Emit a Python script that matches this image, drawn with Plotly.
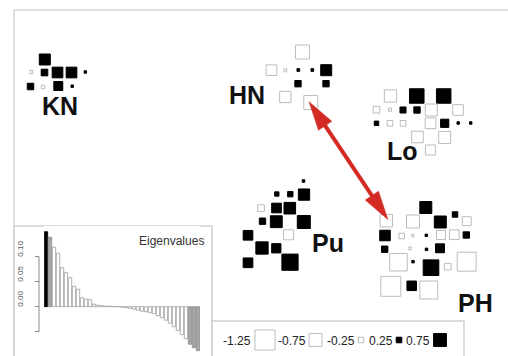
import math
import plotly.graph_objects as go

# ---------------- data ----------------
# map coordinates (x to the right, y downward) and signed values of each cell, by group
kn_x = [44.8, 31.5, 44.5, 57.5, 71.5, 85.3, 30.5, 43.0, 58.3, 72.2]
kn_y = [59.5, 72.0, 72.5, 72.5, 72.5, 72.0, 86.5, 87.0, 86.0, 86.2]
kn_v = [0.62, -0.07, 0.32, 0.60, 0.60, 0.03, 0.31, -0.10, 0.48, 0.03]

hn_x = [302.5, 271.5, 285.3, 298.3, 312.3, 326.2, 298.0, 326.0, 285.3, 310.8]
hn_y = [52.0, 70.2, 70.3, 70.0, 70.0, 70.2, 83.7, 83.7, 97.0, 102.5]
hn_v = [-0.83, -0.60, -0.07, 0.05, 0.05, 0.62, 0.30, 0.30, -0.64, -0.83]

lo_x = [390.5, 416.8, 443.7, 376.5, 390.0, 403.0, 417.0, 431.3, 458.0,
        376.5, 390.0, 403.0, 430.5, 444.7, 458.2, 470.7, 417.5, 444.7, 430.4]
lo_y = [96.0, 96.0, 96.0, 109.7, 109.7, 110.0, 110.0, 110.0, 110.0,
        123.3, 123.3, 123.3, 123.3, 123.3, 123.0, 123.0, 137.0, 137.5, 150.0]
lo_v = [-0.71, 0.86, 0.86, -0.32, -0.07, 0.28, 0.30, -0.69, -0.60,
        0.17, -0.25, -0.25, -0.60, 0.43, 0.03, 0.03, -0.66, -0.69, -0.55]

pu_x = [303.5, 276.8, 290.3, 304.0, 261.0, 276.5, 289.8, 262.5, 276.3, 303.8,
        248.0, 288.5, 262.0, 276.3, 248.0, 290.0]
pu_y = [181.0, 194.0, 194.2, 194.6, 208.2, 208.0, 208.2, 221.2, 221.7, 222.0,
        235.3, 234.8, 248.0, 248.3, 262.8, 262.2]
pu_v = [0.04, 0.16, 0.23, 0.64, -0.33, 0.53, 0.66, 0.30, 0.68, 0.76,
        0.53, -0.55, 0.71, 0.50, 0.53, 0.98]

ph_x = [425.8, 455.0, 386.3, 413.0, 440.3, 466.7, 385.0, 401.7, 412.8, 426.3,
        441.0, 454.3, 466.3, 384.7, 410.0, 426.5, 440.0, 398.5, 413.0, 431.0,
        447.8, 466.7, 390.8, 411.7, 428.8]
ph_y = [207.5, 214.5, 220.7, 221.5, 222.0, 221.2, 235.5, 236.0, 235.5, 235.3,
        235.0, 234.7, 235.0, 249.2, 248.3, 249.3, 248.3, 262.2, 261.7, 267.7,
        266.7, 261.7, 286.3, 285.8, 290.0]
ph_v = [0.69, 0.24, -0.72, -0.76, 0.69, -0.48, 0.59, -0.25, -0.03, 0.03,
        -0.48, -0.53, 0.30, 0.30, -0.05, 0.03, 0.48, -1.07, 0.03, 0.94,
        -0.32, -1.17, -1.24, 0.52, -1.10]

group_names = ["KN", "HN", "Lo", "Pu", "PH"]
group_label_x = [60, 247, 402, 328, 475]
group_label_y = [106, 95, 151, 243, 303]

# eigenvalues (inset)
eigenvalues = [0.150, 0.139, 0.119, 0.107, 0.078, 0.068, 0.058, 0.041, 0.035, 0.018,
               0.015, 0.014, 0.005, 0.003, 0.002, 0.001, 0.001, 0.0005, 0.0, -0.001,
               -0.002, -0.003, -0.005, -0.007, -0.009, -0.010, -0.012, -0.014, -0.018,
               -0.022, -0.027, -0.033, -0.040, -0.048, -0.056, -0.064, -0.075, -0.082,
               -0.088]
eig_ticks = [-0.05, 0.0, 0.05, 0.10]
eig_ticklabels = ["", "0.00", "0.05", "0.10"]

legend_values = [-1.25, -0.75, -0.25, 0.25, 0.75]
legend_labels = ["-1.25", "-0.75", "-0.25", "0.25", "0.75"]

# arrow between HN and PH (map coords)
arrow_from = (309.0, 101.7)
arrow_to = (388.0, 219.7)

# ---------------- styling / layout ----------------
W, H = 508, 356
X0, Y0 = 14, 10                  # plot-area origin in pixels
PW, PH_ = W - X0, H - Y0


def sq_size(v):
    return 2 + 14.5 * abs(v)


def px_to_paper_x(px):
    return (px - X0) / PW


def py_to_paper_y(py):
    return (H - py) / PH_


fig = go.Figure()

groups = [(kn_x, kn_y, kn_v), (hn_x, hn_y, hn_v), (lo_x, lo_y, lo_v),
          (pu_x, pu_y, pu_v), (ph_x, ph_y, ph_v)]
for gx, gy, gv in groups:
    fig.add_trace(go.Scatter(
        x=gx, y=gy, mode="markers", hoverinfo="skip",
        marker=dict(symbol="square", opacity=1,
                    size=[sq_size(v) for v in gv],
                    color=["black" if v > 0 else "white" for v in gv],
                    line=dict(color=["black" if v > 0 else "#bcbcbc" for v in gv], width=1)),
        xaxis="x", yaxis="y"))

# legend squares
legend_px = [265, 315.5, 361, 399, 440]
legend_py = 340
fig.add_trace(go.Scatter(
    x=legend_px, y=[legend_py] * len(legend_px), mode="markers", hoverinfo="skip",
    marker=dict(symbol="square", opacity=1,
                size=[sq_size(v) for v in legend_values],
                color=["black" if v > 0 else "white" for v in legend_values],
                line=dict(color=["black" if v > 0 else "#bcbcbc" for v in legend_values], width=1)),
    xaxis="x", yaxis="y"))

# eigenvalue bars
n = len(eigenvalues)
bar_colors = []
line_colors = []
for i in range(n):
    if i == 0:
        bar_colors.append("black"); line_colors.append("black")
    elif i == 1 or i >= n - 3:
        bar_colors.append("#a6a6a6"); line_colors.append("#8c8c8c")
    else:
        bar_colors.append("white"); line_colors.append("#9a9a9a")
fig.add_trace(go.Bar(
    x=list(range(1, n + 1)), y=eigenvalues, xaxis="x2", yaxis="y2",
    marker=dict(color=bar_colors, line=dict(color=line_colors, width=0.8)),
    hoverinfo="skip"))

shapes = []
# main frame (top and left visible)
shapes.append(dict(type="line", xref="paper", yref="paper", x0=0, x1=1, y0=1, y1=1,
                   line=dict(color="#d6d6d6", width=1.5)))
shapes.append(dict(type="line", xref="paper", yref="paper", x0=0, x1=0, y0=0, y1=1,
                   line=dict(color="#d6d6d6", width=1.5)))
# inset box
shapes.append(dict(type="rect", xref="paper", yref="paper",
                   x0=0, x1=px_to_paper_x(212), y0=-0.05, y1=py_to_paper_y(226),
                   line=dict(color="#cfcfcf", width=1.5), fillcolor="white", layer="below"))
# legend box
shapes.append(dict(type="rect", xref="paper", yref="paper",
                   x0=px_to_paper_x(212), x1=px_to_paper_x(464), y0=-0.05, y1=py_to_paper_y(321),
                   line=dict(color="#cfcfcf", width=1.5), fillcolor="white", layer="below"))
# inset y axis line (R style, between extreme ticks)
axis_xp = px_to_paper_x(39)
shapes.append(dict(type="line", xref="paper", yref="y2", x0=axis_xp, x1=axis_xp,
                   y0=min(eig_ticks), y1=max(eig_ticks), line=dict(color="#8a8a8a", width=1)))

# double-headed red arrow
ax, ay = arrow_from
bx, by = arrow_to
dx, dy = bx - ax, by - ay
L = math.hypot(dx, dy)
ux, uy = dx / L, dy / L
head_len, head_half = 29, 8
red = "#d42a24"
shapes.append(dict(type="line", xref="x", yref="y",
                   x0=ax + ux * head_len * 0.8, y0=ay + uy * head_len * 0.8,
                   x1=bx - ux * head_len * 0.8, y1=by - uy * head_len * 0.8,
                   line=dict(color=red, width=4)))
for tx, ty, sgn in [(ax, ay, 1), (bx, by, -1)]:
    basex, basey = tx + sgn * ux * head_len, ty + sgn * uy * head_len
    px1, py1 = basex - uy * head_half, basey + ux * head_half
    px2, py2 = basex + uy * head_half, basey - ux * head_half
    shapes.append(dict(type="path", xref="x", yref="y",
                       path=f"M {tx},{ty} L {px1},{py1} L {px2},{py2} Z",
                       fillcolor=red, line=dict(color=red, width=0.5)))

annotations = []
for name, lx, ly in zip(group_names, group_label_x, group_label_y):
    annotations.append(dict(x=lx, y=ly, xref="x", yref="y", text=name, showarrow=False,
                            font=dict(family="Liberation Sans", size=25, color="#111", weight="bold"),
                            xanchor="center", yanchor="middle"))
for lab, v, lx in zip(legend_labels, legend_values, legend_px):
    annotations.append(dict(x=lx - sq_size(v) / 2 - 1.5, y=legend_py + 1, xref="x", yref="y", text=lab,
                            showarrow=False, xanchor="right", yanchor="middle",
                            font=dict(family="Liberation Sans", size=12, color="#222")))
annotations.append(dict(x=px_to_paper_x(206), y=py_to_paper_y(241), xref="paper", yref="paper",
                        text="Eigenvalues", showarrow=False, xanchor="right", yanchor="middle",
                        font=dict(family="Liberation Sans", size=12, color="#333")))
for tv, tl in zip(eig_ticks, eig_ticklabels):
    if tl:
        annotations.append(dict(x=px_to_paper_x(21), y=tv + 0.016, xref="paper", yref="y2", text=tl,
                                showarrow=False, textangle=-90, xanchor="center", yanchor="middle",
                                font=dict(family="Liberation Sans", size=8, color="#555")))

fig.update_layout(
    width=W, height=H, margin=dict(l=X0, r=0, t=Y0, b=0),
    paper_bgcolor="white", plot_bgcolor="white", showlegend=False,
    xaxis=dict(range=[X0, W], visible=False, domain=[0, 1]),
    yaxis=dict(range=[H, Y0], visible=False, domain=[0, 1]),
    xaxis2=dict(range=[0.5, n + 0.5], domain=[px_to_paper_x(44), px_to_paper_x(200)],
                anchor="y2", visible=False),
    yaxis2=dict(range=[-(H - 306.7) / 500, (306.7 - 226) / 500],
                domain=[0, py_to_paper_y(226)], anchor="free", position=axis_xp,
                showgrid=False, zeroline=False, showline=False, showticklabels=False,
                ticks="outside", ticklen=4, tickcolor="#8a8a8a", tickvals=eig_ticks),
    bargap=0.15,
    shapes=shapes, annotations=annotations,
)

# remove the browser's default page margin so the figure fills the window exactly
fig.write_html("out.html", config={"displayModeBar": False},
               post_script="document.documentElement.style.overflow='hidden';"
                           "document.body.style.margin='0';document.body.style.overflow='hidden';")
